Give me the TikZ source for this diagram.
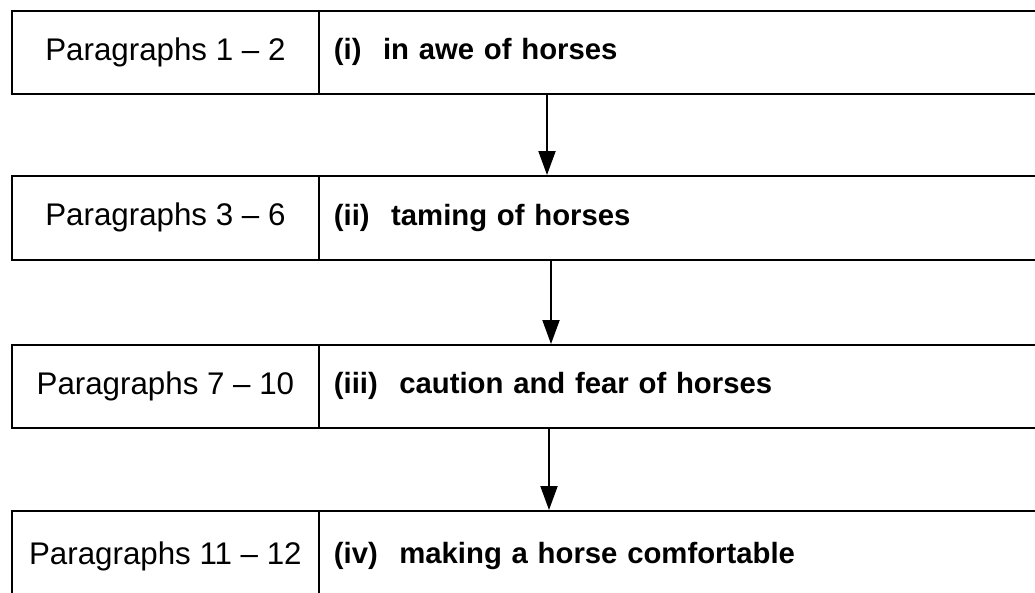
\documentclass[tikz,border=0pt]{standalone}
\usepackage{fontspec}
\setmainfont{Liberation Sans}
\usetikzlibrary{arrows.meta}
\begin{document}
\begin{tikzpicture}[x=1pt,y=-1pt,
  cell/.style={draw=black,line width=1.8pt,rectangle,inner sep=0pt,anchor=north west},
  leftcell/.style={cell,minimum width=307pt,font=\fontsize{31.3}{35}\selectfont},
  rightcell/.style={cell,minimum width=740pt,text width=710pt,align=left,inner xsep=15pt,font=\fontsize{29.3}{34}\selectfont\bfseries},
  arr/.style={draw=black,line width=2pt,-{Triangle[width=17pt,length=24pt]}}]
\useasboundingbox (0,0) rectangle (1035,592);
\fill[white] (0,0) rectangle (1035,592);
% row 1
\node[leftcell,minimum height=83pt] (p1) at (11,10) {Paragraphs 1 -- 2};
\node[rightcell,minimum height=83pt] (t1) at (318,10) {(i)\hspace{0.4em} in awe of horses};
% row 2
\node[leftcell,minimum height=84pt] (p2) at (11,175) {Paragraphs 3 -- 6};
\node[rightcell,minimum height=84pt] (t2) at (318,175) {(ii)\hspace{0.4em} taming of horses};
% row 3
\node[leftcell,minimum height=83pt] (p3) at (11,344) {Paragraphs 7 -- 10};
\node[rightcell,minimum height=83pt] (t3) at (318,344) {(iii)\hspace{0.4em} caution and fear of horses};
% row 4
\node[leftcell,minimum height=100pt,text depth=16pt] (p4) at (11,510) {Paragraphs 11 -- 12};
\node[rightcell,minimum height=100pt,text depth=16pt] (t4) at (318,510) {(iv)\hspace{0.4em} making a horse comfortable};
% arrows
\draw[arr] ([xshift=229pt]t1.south west) -- ([xshift=229pt]t2.north west);
\draw[arr] ([xshift=233pt]t2.south west) -- ([xshift=233pt]t3.north west);
\draw[arr] ([xshift=231pt]t3.south west) -- ([xshift=231pt]t4.north west);
\end{tikzpicture}
\end{document}
